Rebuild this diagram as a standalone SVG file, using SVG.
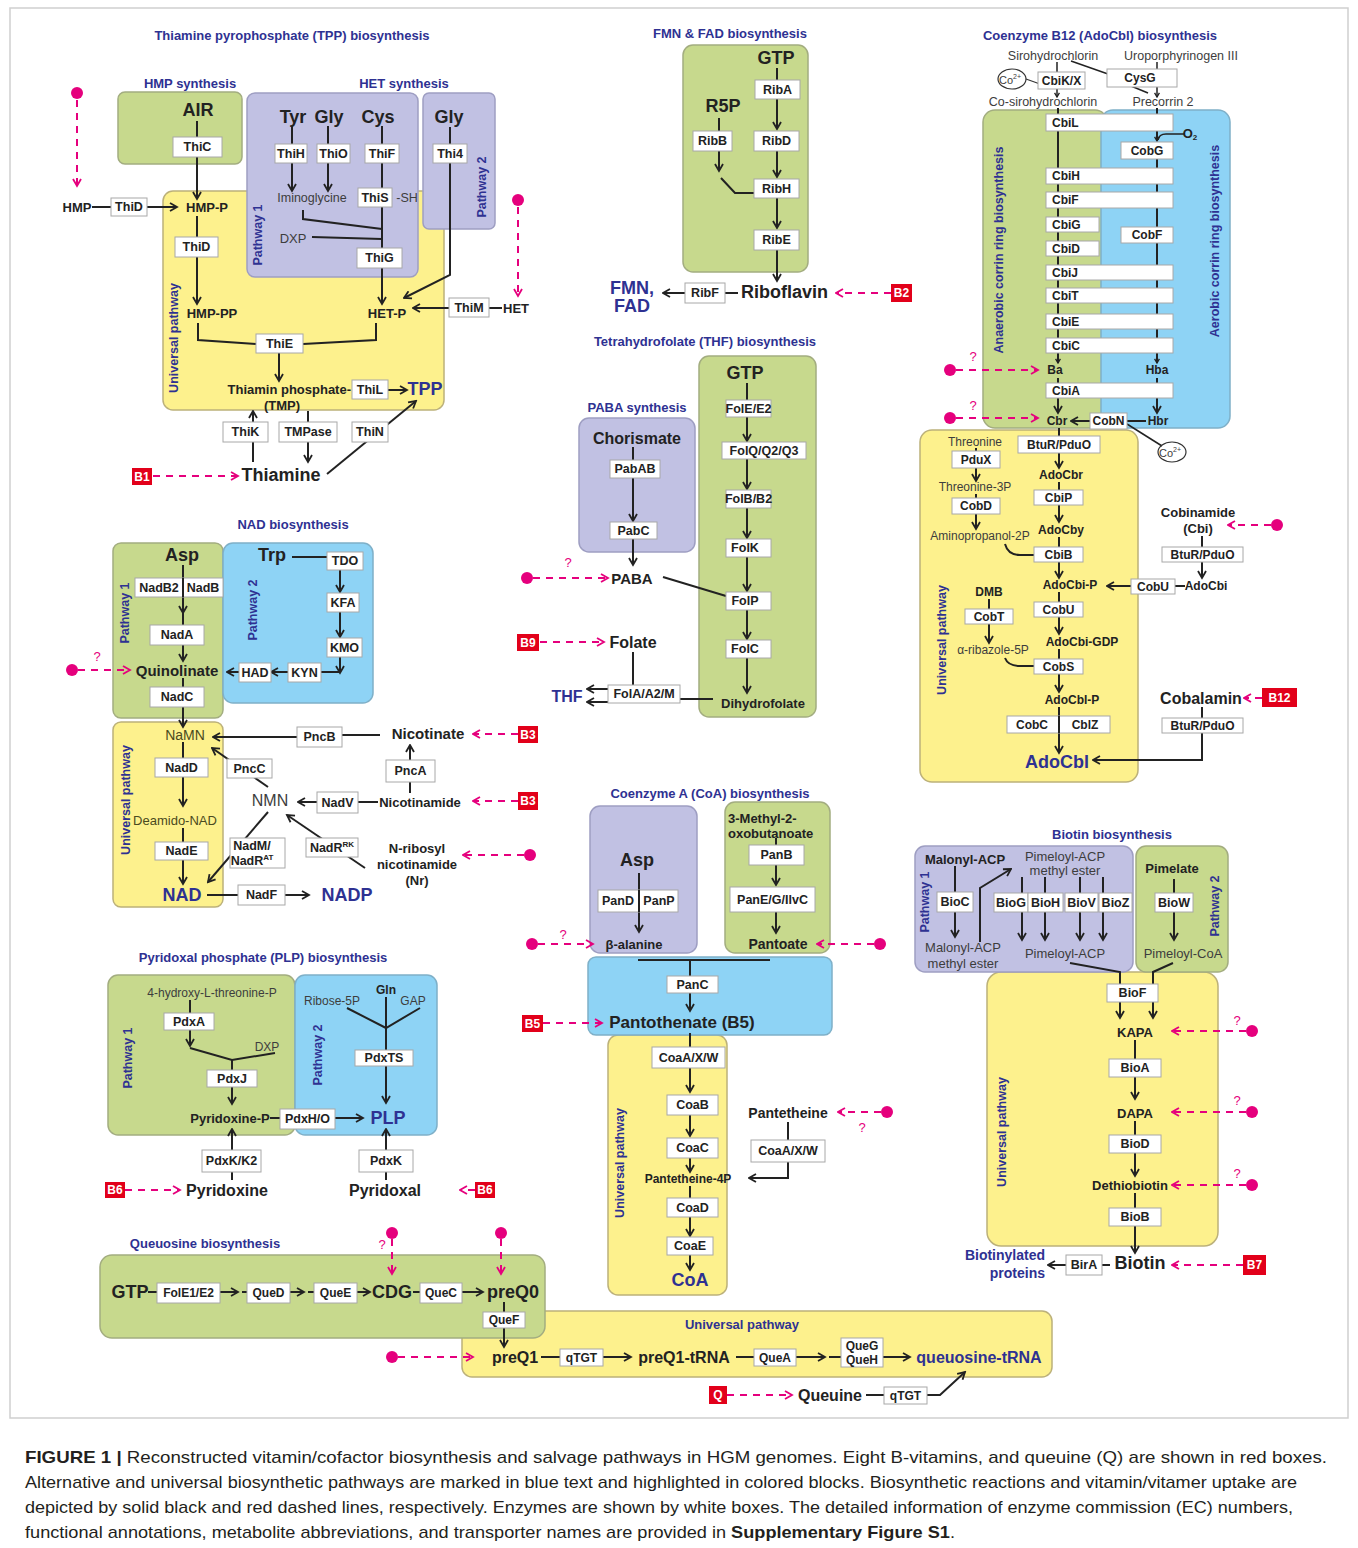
<svg xmlns="http://www.w3.org/2000/svg" width="1358" height="1548" viewBox="0 0 1358 1548">
<defs>
<style>
text{font-family:"Liberation Sans",Arial,Helvetica,sans-serif;fill:#222;text-anchor:middle;dominant-baseline:central}
.e{font-weight:bold;font-size:12.5px}
.es{font-weight:bold;font-size:12px}
.L{font-weight:bold;font-size:18px}
.M{font-weight:bold;font-size:15px}
.S{font-weight:bold;font-size:13px}
.rg{font-size:13px;fill:#3d3d3d}
.bl{fill:#2e3192}
.ti{font-weight:bold;font-size:13px;fill:#2e3192}
.lb{font-weight:bold;font-size:12.5px;fill:#2e3192}
.q{font-size:13px;fill:#e5007d}
.rt{font-weight:bold;font-size:12px;fill:#fff}
.cap{font-size:17px;text-anchor:start;fill:#231f20}
.st{text-anchor:start}
.en{text-anchor:end}
.eb{fill:#fff;stroke:#a8a8a8;stroke-width:1}
.rb{fill:#e2001a}
.c{fill:none;stroke:#222;stroke-width:2}
.ar{marker-end:url(#a)}
.sa{marker-end:url(#s)}
.d{fill:none;stroke:#e5007d;stroke-width:2;stroke-dasharray:7 6;marker-end:url(#m)}
.dot{fill:#e5007d}
.g{fill:#c7d98d;stroke:#a3ad80;stroke-width:1.5}
.p{fill:#c1c1e3;stroke:#9e9ec2;stroke-width:1.5}
.y{fill:#fdf18d;stroke:#bcb17a;stroke-width:1.5}
.b{fill:#8ed3f5;stroke:#7fb0c8;stroke-width:1.5}
.co{fill:none;stroke:#333;stroke-width:1.2}
</style>
<marker id="a" viewBox="0 0 10 10" refX="8.5" refY="5" markerWidth="10" markerHeight="10" markerUnits="userSpaceOnUse" orient="auto"><path d="M1.5,1 L8.5,5 L1.5,9" fill="none" stroke="#222" stroke-width="1.8"/></marker>
<marker id="s" viewBox="0 0 10 10" refX="8.5" refY="5" markerWidth="6" markerHeight="6" markerUnits="userSpaceOnUse" orient="auto"><path d="M1.5,1 L8.5,5 L1.5,9" fill="none" stroke="#222" stroke-width="2.2"/></marker>
<marker id="m" viewBox="0 0 10 10" refX="8.5" refY="5" markerWidth="10" markerHeight="10" markerUnits="userSpaceOnUse" orient="auto"><path d="M1.5,1 L8.5,5 L1.5,9" fill="none" stroke="#e5007d" stroke-width="1.8"/></marker>
</defs>
<rect x="0" y="0" width="1358" height="1548" fill="#fff"/>
<rect x="10" y="8" width="1338" height="1410" fill="none" stroke="#cfcfcf" stroke-width="1.5"/>

<g id="blocks">
<rect class="g" x="118" y="92" width="124" height="72" rx="7"/>
<rect class="y" x="163" y="191" width="281" height="219" rx="10"/>
<rect class="p" x="247" y="93" width="171" height="184" rx="8"/>
<rect class="p" x="423" y="93" width="72" height="136" rx="6"/>
<rect class="g" x="683" y="45" width="125" height="227" rx="10"/>
<rect class="g" x="699" y="356" width="117" height="361" rx="10"/>
<rect class="p" x="579" y="418" width="116" height="134" rx="10"/>
<rect class="y" x="920" y="430" width="218" height="352" rx="12"/>
<rect class="g" x="983" y="110" width="124" height="318" rx="12"/>
<rect class="b" x="1101" y="110" width="129" height="318" rx="12"/>
<rect class="g" x="113" y="543" width="110" height="175" rx="8"/>
<rect class="b" x="223" y="543" width="150" height="160" rx="10"/>
<rect class="y" x="113" y="722" width="110" height="185" rx="8"/>
<rect class="g" x="108" y="975" width="187" height="160" rx="10"/>
<rect class="b" x="295" y="975" width="142" height="160" rx="10"/>
<rect class="p" x="590" y="806" width="107" height="147" rx="10"/>
<rect class="g" x="725" y="802" width="105" height="151" rx="10"/>
<rect class="y" x="608" y="1035" width="119" height="260" rx="10"/>
<rect class="b" x="588" y="957" width="244" height="78" rx="8"/>
<rect class="y" x="987" y="972" width="231" height="274" rx="14"/>
<rect class="p" x="915" y="846" width="218" height="126" rx="10"/>
<rect class="g" x="1136" y="846" width="92" height="126" rx="10"/>
<rect class="y" x="462" y="1311" width="590" height="66" rx="10"/>
<rect class="g" x="100" y="1255" width="445" height="83" rx="12"/>
</g>

<g id="labels">
<text class="ti" x="292" y="35">Thiamine pyrophosphate (TPP) biosynthesis</text>
<text class="ti" x="190" y="83">HMP synthesis</text>
<text class="ti" x="404" y="83">HET synthesis</text>
<text class="ti" x="730" y="33">FMN &amp; FAD biosynthesis</text>
<text class="ti" x="1100" y="35">Coenzyme B12 (AdoCbl) biosynthesis</text>
<text class="ti" x="705" y="341">Tetrahydrofolate (THF) biosynthesis</text>
<text class="ti" x="637" y="407">PABA synthesis</text>
<text class="ti" x="293" y="524">NAD biosynthesis</text>
<text class="ti" x="710" y="793">Coenzyme A (CoA) biosynthesis</text>
<text class="ti" x="1112" y="834">Biotin biosynthesis</text>
<text class="ti" x="263" y="957">Pyridoxal phosphate (PLP) biosynthesis</text>
<text class="ti" x="205" y="1243">Queuosine biosynthesis</text>
<text class="ti" x="742" y="1324">Universal pathway</text>
<text class="lb" transform="rotate(-90 258 235)" x="258" y="235">Pathway 1</text>
<text class="lb" transform="rotate(-90 482 187)" x="482" y="187">Pathway 2</text>
<text class="lb" transform="rotate(-90 174 338)" x="174" y="338">Universal pathway</text>
<text class="lb" transform="rotate(-90 999 250)" x="999" y="250">Anaerobic corrin ring biosynthesis</text>
<text class="lb" transform="rotate(-90 1215 241)" x="1215" y="241">Aerobic corrin ring biosynthesis</text>
<text class="lb" transform="rotate(-90 942 640)" x="942" y="640">Universal pathway</text>
<text class="lb" transform="rotate(-90 125 613)" x="125" y="613">Pathway 1</text>
<text class="lb" transform="rotate(-90 253 610)" x="253" y="610">Pathway 2</text>
<text class="lb" transform="rotate(-90 126 800)" x="126" y="800">Universal pathway</text>
<text class="lb" transform="rotate(-90 128 1058)" x="128" y="1058">Pathway 1</text>
<text class="lb" transform="rotate(-90 318 1055)" x="318" y="1055">Pathway 2</text>
<text class="lb" transform="rotate(-90 620 1163)" x="620" y="1163">Universal pathway</text>
<text class="lb" transform="rotate(-90 925 902)" x="925" y="902">Pathway 1</text>
<text class="lb" transform="rotate(-90 1215 906)" x="1215" y="906">Pathway 2</text>
<text class="lb" transform="rotate(-90 1002 1132)" x="1002" y="1132">Universal pathway</text>
</g>

<g id="connectors">
<path class="c" d="M197,121V137"/>
<path class="c ar" d="M197,157V199"/>
<path class="c" d="M92,207H111"/>
<path class="c ar" d="M147,207H177"/>
<path class="c" d="M197,216V237"/>
<path class="c ar" d="M197,257V304"/>
<path class="c" d="M292,126V144"/>
<path class="c ar" d="M292,163V191"/>
<path class="c" d="M328,126V144"/>
<path class="c ar" d="M328,163V191"/>
<path class="c" d="M382,126V144M382,163V188M382,207V248"/>
<path class="c ar" d="M382,268V304"/>
<path class="c" d="M303,210V219L382,229"/>
<path class="c" d="M312,237L382,239"/>
<path class="c" d="M450,127V144"/>
<path class="c ar" d="M450,163V275L404,298"/>
<path class="c ar" d="M449,308H413"/>
<path class="c" d="M502,308H489"/>
<path class="c" d="M198,323V340L256,344"/>
<path class="c" d="M376,323V340L303,344"/>
<path class="c ar" d="M279,353V381"/>
<path class="c ar" d="M388,390H407"/>
<path class="c ar" d="M253,462V411"/>
<path class="c ar" d="M308,411V462"/>
<path class="c ar" d="M327,474L416,401"/>
<path class="d" d="M77,100V186"/>
<path class="d" d="M518,207V296"/>
<path class="d" d="M153,476H238"/>

<path class="c" d="M777,68V80"/>
<path class="c ar" d="M777,99V129"/>
<path class="c ar" d="M777,151V177"/>
<path class="c ar" d="M777,198V228"/>
<path class="c ar" d="M777,250V281"/>
<path class="c" d="M719,118V131"/>
<path class="c ar" d="M719,151V171"/>
<path class="c" d="M721,178L735,193H754"/>
<path class="c" d="M725,293H738"/>
<path class="c ar" d="M685,293H663"/>
<path class="d" d="M891,293H836"/>

<path class="c" d="M747,383V400"/>
<path class="c ar" d="M747,417V441"/>
<path class="c ar" d="M747,459V489"/>
<path class="c ar" d="M747,508V538"/>
<path class="c ar" d="M747,557V591"/>
<path class="c ar" d="M747,610V639"/>
<path class="c ar" d="M747,658V693"/>
<path class="c" d="M633,447V460"/>
<path class="c ar" d="M633,478V521"/>
<path class="c ar" d="M633,539V565"/>
<path class="c" d="M663,577L726,596"/>
<path class="c" d="M633,652V685"/>
<path class="c" d="M680,699H713"/>
<path class="c ar" d="M608,689H587"/>
<path class="c ar" d="M608,702H587"/>
<path class="d" d="M533,578H608"/>
<path class="d" d="M540,642H604"/>

<path class="c" d="M1057,62V72" style="stroke-width:1.5"/>
<path class="c sa" d="M1057,89V97" style="stroke-width:1.5"/>
<path class="co" d="M1026,79L1040,84"/>
<path class="c" d="M1071,61L1108,74" style="stroke-width:1.5"/>
<path class="c" d="M1157,62V69" style="stroke-width:1.5"/>
<path class="c sa" d="M1157,87V97" style="stroke-width:1.5"/>
<path class="c" d="M1131,86L1148,93" style="stroke-width:1.5"/>
<path class="c" d="M1058,108V114"/>
<path class="c sa" d="M1058,131V363"/>
<path class="c" d="M1058,378V383"/>
<path class="c ar" d="M1058,398V413"/>
<path class="c sa" d="M1157,108V141"/>
<path class="c sa" d="M1157,159V363"/>
<path class="c ar" d="M1157,378V413"/>
<path class="c" d="M1185,134H1166Q1159,134 1158,140" style="stroke-width:1.5"/>
<path class="c ar" d="M1090,421H1071"/>
<path class="c" d="M1146,421H1127"/>
<path class="c" d="M1127,424L1162,446" style="stroke-width:1.5"/>
<path class="d" d="M956,370H1038"/>
<path class="d" d="M956,418H1038"/>
<path class="c" d="M1059,428V436"/>
<path class="c ar" d="M1059,453V468"/>
<path class="c" d="M1059,482V490"/>
<path class="c ar" d="M1059,505V522"/>
<path class="c" d="M1059,537V547"/>
<path class="c ar" d="M1059,562V578"/>
<path class="c" d="M1059,592V602"/>
<path class="c ar" d="M1059,617V634"/>
<path class="c" d="M1059,649V659"/>
<path class="c ar" d="M1059,674V692"/>
<path class="c ar" d="M1059,707V753"/>
<path class="c" d="M976,448V451"/>
<path class="c ar" d="M976,468V481"/>
<path class="c" d="M976,494V498"/>
<path class="c ar" d="M976,514V529"/>
<path class="c" d="M1005,544Q1008,555 1020,555H1034"/>
<path class="c" d="M989,599V609"/>
<path class="c ar" d="M989,624V643"/>
<path class="c" d="M1005,658Q1008,666 1020,666H1034"/>
<path class="c" d="M1202,536V547"/>
<path class="c ar" d="M1202,562V578"/>
<path class="c" d="M1185,586H1175"/>
<path class="c ar" d="M1131,586H1107"/>
<path class="c" d="M1202,707V718"/>
<path class="c ar" d="M1202,733V760H1093"/>
<path class="d" d="M1271,525H1228"/>
<path class="d" d="M1262,698H1244"/>

<path class="c ar" d="M183,565V613"/>
<path class="c" d="M183,612V625"/>
<path class="c ar" d="M183,645V661"/>
<path class="c" d="M183,678V687"/>
<path class="c ar" d="M183,707V727"/>
<path class="c" d="M292,557H327"/>
<path class="c ar" d="M340,570V592"/>
<path class="c ar" d="M340,612V637"/>
<path class="c ar" d="M340,657V673"/>
<path class="c" d="M321,672H339"/>
<path class="c ar" d="M288,672H271"/>
<path class="c ar" d="M239,672H227"/>
<path class="c" d="M183,742V758"/>
<path class="c ar" d="M183,777V806"/>
<path class="c" d="M183,828V842"/>
<path class="c ar" d="M183,860V884"/>
<path class="c" d="M207,895H238"/>
<path class="c ar" d="M285,895H309"/>
<path class="c" d="M380,735H342"/>
<path class="c ar" d="M297,737H213"/>
<path class="c ar" d="M410,793V745"/>
<path class="c" d="M378,802H358"/>
<path class="c ar" d="M317,802H298"/>
<path class="c ar" d="M268,787L212,748"/>
<path class="c ar" d="M268,812L208,882"/>
<path class="c ar" d="M365,868L287,815"/>
<path class="d" d="M78,670H130"/>
<path class="d" d="M518,734H473"/>
<path class="d" d="M518,801H473"/>
<path class="d" d="M524,855H463"/>

<path class="c" d="M190,1000V1013"/>
<path class="c ar" d="M190,1030V1046"/>
<path class="c" d="M190,1048L232,1060L275,1053"/>
<path class="c" d="M232,1060V1070"/>
<path class="c ar" d="M232,1087V1104"/>
<path class="c" d="M270,1118H280"/>
<path class="c ar" d="M335,1118H363"/>
<path class="c" d="M386,997V1050"/>
<path class="c" d="M347,1008L386,1028L420,1008"/>
<path class="c ar" d="M386,1066V1103"/>
<path class="c ar" d="M232,1180V1129"/>
<path class="c ar" d="M386,1180V1129"/>
<path class="d" d="M125,1190H180"/>
<path class="d" d="M475,1190H460"/>

<path class="c ar" d="M639,873V932"/>
<path class="c" d="M776,838V845"/>
<path class="c ar" d="M776,865V885"/>
<path class="c ar" d="M776,912V933"/>
<path class="c" d="M638,960H770"/>
<path class="c" d="M690,960V976"/>
<path class="c ar" d="M690,993V1011"/>
<path class="c" d="M690,1033V1047"/>
<path class="c ar" d="M690,1068V1092"/>
<path class="c ar" d="M690,1115V1136"/>
<path class="c ar" d="M690,1158V1172"/>
<path class="c" d="M690,1186V1198"/>
<path class="c ar" d="M690,1217V1236"/>
<path class="c ar" d="M690,1255V1270"/>
<path class="c" d="M788,1122V1140"/>
<path class="c ar" d="M788,1162V1178H749"/>
<path class="d" d="M538,944H593"/>
<path class="d" d="M874,944H817"/>
<path class="d" d="M543,1023H602"/>
<path class="d" d="M881,1112H838"/>

<path class="c" d="M955,866V892"/>
<path class="c ar" d="M955,912V937"/>
<path class="c ar" d="M980,942V888L1011,869"/>
<path class="c" d="M1022,877V893M1045,877V893M1080,877V893M1103,877V893"/>
<path class="c ar" d="M1022,912V940"/>
<path class="c ar" d="M1045,912V940"/>
<path class="c ar" d="M1080,912V940"/>
<path class="c ar" d="M1103,912V940"/>
<path class="c" d="M1174,879V893"/>
<path class="c ar" d="M1174,912V940"/>
<path class="c" d="M1070,963L1120,972V984"/>
<path class="c" d="M1173,963L1153,972V984"/>
<path class="c ar" d="M1120,1002V1018"/>
<path class="c ar" d="M1153,1002V1018"/>
<path class="c" d="M1135,1040V1059"/>
<path class="c ar" d="M1135,1077V1099"/>
<path class="c" d="M1135,1121V1135"/>
<path class="c ar" d="M1135,1153V1176"/>
<path class="c" d="M1135,1193V1208"/>
<path class="c ar" d="M1135,1226V1253"/>
<path class="c" d="M1102,1265H1110"/>
<path class="c ar" d="M1066,1265H1048"/>
<path class="d" d="M1246,1031H1172"/>
<path class="d" d="M1246,1112H1172"/>
<path class="d" d="M1246,1185H1172"/>
<path class="d" d="M1243,1265H1172"/>

<path class="c" d="M148,1292H157"/>
<path class="c ar" d="M220,1292H238"/>
<path class="c" d="M242,1292H247"/>
<path class="c ar" d="M290,1292H304"/>
<path class="c" d="M308,1292H314"/>
<path class="c ar" d="M357,1292H370"/>
<path class="c" d="M413,1292H420"/>
<path class="c ar" d="M462,1292H483"/>
<path class="c" d="M504,1302V1312"/>
<path class="c ar" d="M504,1328V1347"/>
<path class="c" d="M541,1357H560"/>
<path class="c ar" d="M603,1357H631"/>
<path class="c" d="M736,1357H754"/>
<path class="c ar" d="M796,1357H825"/>
<path class="c" d="M829,1357H841"/>
<path class="c ar" d="M883,1357H910"/>
<path class="c" d="M866,1395H884"/>
<path class="c ar" d="M927,1395H940L965,1372"/>
<path class="d" d="M392,1239V1274"/>
<path class="d" d="M501,1239V1274"/>
<path class="d" d="M398,1357H473"/>
<path class="d" d="M727,1395H792"/>
</g>

<g id="uptake-markers">
<circle class="dot" cx="77" cy="93" r="6"/>
<circle class="dot" cx="518" cy="200" r="6"/>
<circle class="dot" cx="527" cy="578" r="6"/>
<text class="q" x="568" y="562">?</text>
<circle class="dot" cx="950" cy="370" r="6"/>
<text class="q" x="973" y="356">?</text>
<circle class="dot" cx="950" cy="418" r="6"/>
<text class="q" x="973" y="405">?</text>
<circle class="dot" cx="1277" cy="525" r="6"/>
<circle class="dot" cx="72" cy="670" r="6"/>
<text class="q" x="97" y="656">?</text>
<circle class="dot" cx="530" cy="855" r="6"/>
<circle class="dot" cx="532" cy="944" r="6"/>
<text class="q" x="563" y="934">?</text>
<circle class="dot" cx="880" cy="944" r="6"/>
<circle class="dot" cx="887" cy="1112" r="6"/>
<text class="q" x="862" y="1127">?</text>
<circle class="dot" cx="1252" cy="1031" r="6"/>
<text class="q" x="1237" y="1020">?</text>
<circle class="dot" cx="1252" cy="1112" r="6"/>
<text class="q" x="1237" y="1100">?</text>
<circle class="dot" cx="1252" cy="1185" r="6"/>
<text class="q" x="1237" y="1173">?</text>
<circle class="dot" cx="392" cy="1233" r="6"/>
<text class="q" x="382" y="1244">?</text>
<circle class="dot" cx="501" cy="1233" r="6"/>
<circle class="dot" cx="392" cy="1357" r="6"/>
</g>

<g id="vitamins">
<g id="v-b1"><rect class="rb" x="132" y="468" width="20" height="17"/><text class="rt" x="142" y="476.5">B1</text></g>
<g id="v-b2"><rect class="rb" x="891" y="284" width="21" height="18"/><text class="rt" x="901.5" y="293">B2</text></g>
<g id="v-b9"><rect class="rb" x="517" y="634" width="22" height="17"/><text class="rt" x="528" y="642.5">B9</text></g>
<g id="v-b12"><rect class="rb" x="1262" y="688" width="35" height="19"/><text class="rt" x="1279.5" y="697.5">B12</text></g>
<g id="v-b3a"><rect class="rb" x="518" y="726" width="20" height="17"/><text class="rt" x="528" y="734.5">B3</text></g>
<g id="v-b3b"><rect class="rb" x="518" y="792" width="20" height="18"/><text class="rt" x="528" y="801">B3</text></g>
<g id="v-b6a"><rect class="rb" x="105" y="1182" width="20" height="16"/><text class="rt" x="115" y="1190">B6</text></g>
<g id="v-b6b"><rect class="rb" x="475" y="1182" width="20" height="16"/><text class="rt" x="485" y="1190">B6</text></g>
<g id="v-b5"><rect class="rb" x="522" y="1015" width="21" height="17"/><text class="rt" x="532.5" y="1023.5">B5</text></g>
<g id="v-b7"><rect class="rb" x="1243" y="1255" width="23" height="20"/><text class="rt" x="1254.5" y="1265">B7</text></g>
<g id="v-q"><rect class="rb" x="709" y="1386" width="18" height="18"/><text class="rt" x="718" y="1395">Q</text></g>
</g>

<g id="enzymes">
<g id="e-thic"><rect class="eb" x="173" y="137" width="49" height="20"/><text class="e" x="197.5" y="147">ThiC</text></g>
<g id="e-thih"><rect class="eb" x="275" y="144" width="32" height="19"/><text class="e" x="291" y="153.5">ThiH</text></g>
<g id="e-thio"><rect class="eb" x="317" y="144" width="33" height="19"/><text class="e" x="333.5" y="153.5">ThiO</text></g>
<g id="e-thif"><rect class="eb" x="365" y="144" width="34" height="19"/><text class="e" x="382" y="153.5">ThiF</text></g>
<g id="e-thi4"><rect class="eb" x="433" y="144" width="34" height="19"/><text class="e" x="450" y="153.5">Thi4</text></g>
<g id="e-this"><rect class="eb" x="358" y="188" width="34" height="19"/><text class="e" x="375" y="197.5">ThiS</text></g>
<g id="e-thig"><rect class="eb" x="357" y="248" width="45" height="20"/><text class="e" x="379.5" y="258">ThiG</text></g>
<g id="e-thid1"><rect class="eb" x="111" y="198" width="36" height="18"/><text class="e" x="129" y="207">ThiD</text></g>
<g id="e-thid2"><rect class="eb" x="175" y="237" width="43" height="20"/><text class="e" x="196.5" y="247">ThiD</text></g>
<g id="e-thim"><rect class="eb" x="449" y="298" width="40" height="19"/><text class="e" x="469" y="307.5">ThiM</text></g>
<g id="e-thie"><rect class="eb" x="256" y="334" width="47" height="19"/><text class="e" x="279.5" y="343.5">ThiE</text></g>
<g id="e-thil"><rect class="eb" x="352" y="380" width="36" height="19"/><text class="e" x="370" y="389.5">ThiL</text></g>
<g id="e-thik"><rect class="eb" x="223" y="422" width="45" height="20"/><text class="e" x="245.5" y="432">ThiK</text></g>
<g id="e-tmpase"><rect class="eb" x="279" y="422" width="58" height="20"/><text class="e" x="308" y="432">TMPase</text></g>
<g id="e-thin"><rect class="eb" x="352" y="422" width="36" height="20"/><text class="e" x="370" y="432">ThiN</text></g>

<g id="e-riba"><rect class="eb" x="755" y="80" width="45" height="19"/><text class="e" x="777.5" y="89.5">RibA</text></g>
<g id="e-ribb"><rect class="eb" x="693" y="131" width="39" height="20"/><text class="e" x="712.5" y="141">RibB</text></g>
<g id="e-ribd"><rect class="eb" x="754" y="131" width="45" height="20"/><text class="e" x="776.5" y="141">RibD</text></g>
<g id="e-ribh"><rect class="eb" x="754" y="179" width="45" height="19"/><text class="e" x="776.5" y="188.5">RibH</text></g>
<g id="e-ribe"><rect class="eb" x="754" y="230" width="45" height="20"/><text class="e" x="776.5" y="240">RibE</text></g>
<g id="e-ribf"><rect class="eb" x="685" y="283" width="40" height="20"/><text class="e" x="705" y="293">RibF</text></g>

<g id="e-fole"><rect class="eb" x="726" y="400" width="45" height="17"/><text class="e" x="748.5" y="408.5">FolE/E2</text></g>
<g id="e-folq"><rect class="eb" x="722" y="442" width="84" height="17"/><text class="e" x="764" y="450.5">FolQ/Q2/Q3</text></g>
<g id="e-folb"><rect class="eb" x="726" y="490" width="45" height="18"/><text class="e" x="748.5" y="499">FolB/B2</text></g>
<g id="e-folk"><rect class="eb" x="726" y="539" width="45" height="18"/><text class="e" x="745" y="548">FolK</text></g>
<g id="e-folp"><rect class="eb" x="726" y="592" width="45" height="18"/><text class="e" x="745" y="601">FolP</text></g>
<g id="e-folc"><rect class="eb" x="726" y="640" width="45" height="18"/><text class="e" x="745" y="649">FolC</text></g>
<g id="e-pabab"><rect class="eb" x="610" y="460" width="50" height="18"/><text class="e" x="635" y="469">PabAB</text></g>
<g id="e-pabc"><rect class="eb" x="610" y="522" width="47" height="17"/><text class="e" x="633.5" y="530.5">PabC</text></g>
<g id="e-fola"><rect class="eb" x="608" y="685" width="72" height="18"/><text class="e" x="644" y="694">FolA/A2/M</text></g>

<g id="e-cbikx"><rect class="eb" x="1038" y="72" width="47" height="17"/><text class="es" x="1061.5" y="80.5">CbiK/X</text></g>
<g id="e-cysg"><rect class="eb" x="1107" y="69" width="70" height="18"/><text class="es" x="1140" y="78">CysG</text></g>
<g id="e-cbil"><rect class="eb" x="1046" y="114" width="127" height="17"/><text class="es st" x="1052" y="122.5">CbiL</text></g>
<g id="e-cobg"><rect class="eb" x="1121" y="142" width="52" height="17"/><text class="es" x="1147" y="150.5">CobG</text></g>
<g id="e-cbih"><rect class="eb" x="1046" y="168" width="127" height="16"/><text class="es st" x="1052" y="176">CbiH</text></g>
<g id="e-cbif"><rect class="eb" x="1046" y="192" width="127" height="16"/><text class="es st" x="1052" y="200">CbiF</text></g>
<g id="e-cbig"><rect class="eb" x="1046" y="217" width="53" height="15"/><text class="es st" x="1052" y="224.5">CbiG</text></g>
<g id="e-cbid"><rect class="eb" x="1046" y="241" width="53" height="15"/><text class="es st" x="1052" y="248.5">CbiD</text></g>
<g id="e-cobf"><rect class="eb" x="1121" y="227" width="52" height="16"/><text class="es" x="1147" y="235">CobF</text></g>
<g id="e-cbij"><rect class="eb" x="1046" y="265" width="127" height="15"/><text class="es st" x="1052" y="272.5">CbiJ</text></g>
<g id="e-cbit"><rect class="eb" x="1046" y="288" width="127" height="15"/><text class="es st" x="1052" y="295.5">CbiT</text></g>
<g id="e-cbie"><rect class="eb" x="1046" y="314" width="127" height="15"/><text class="es st" x="1052" y="321.5">CbiE</text></g>
<g id="e-cbic"><rect class="eb" x="1046" y="338" width="127" height="15"/><text class="es st" x="1052" y="345.5">CbiC</text></g>
<g id="e-cbia"><rect class="eb" x="1046" y="383" width="127" height="15"/><text class="es st" x="1052" y="390.5">CbiA</text></g>
<g id="e-cobn"><rect class="eb" x="1090" y="413" width="37" height="16"/><text class="es" x="1108.5" y="421">CobN</text></g>
<g id="e-btur1"><rect class="eb" x="1018" y="436" width="82" height="17"/><text class="es" x="1059" y="444.5">BtuR/PduO</text></g>
<g id="e-pdux"><rect class="eb" x="952" y="451" width="48" height="17"/><text class="es" x="976" y="459.5">PduX</text></g>
<g id="e-cobd"><rect class="eb" x="952" y="498" width="48" height="16"/><text class="es" x="976" y="506">CobD</text></g>
<g id="e-cbip"><rect class="eb" x="1034" y="490" width="49" height="15"/><text class="es" x="1058.5" y="497.5">CbiP</text></g>
<g id="e-cbib"><rect class="eb" x="1034" y="547" width="49" height="15"/><text class="es" x="1058.5" y="554.5">CbiB</text></g>
<g id="e-cobu1"><rect class="eb" x="1034" y="602" width="49" height="15"/><text class="es" x="1058.5" y="609.5">CobU</text></g>
<g id="e-cobs"><rect class="eb" x="1034" y="659" width="49" height="15"/><text class="es" x="1058.5" y="666.5">CobS</text></g>
<g id="e-cobt"><rect class="eb" x="965" y="609" width="48" height="15"/><text class="es" x="989" y="616.5">CobT</text></g>
<g id="e-cobc"><rect class="eb" x="1007" y="716" width="103" height="17"/><path class="c" d="M1059,716V733"/><text class="es" x="1032" y="724.5">CobC</text><text class="es" x="1085" y="724.5">CblZ</text></g>
<g id="e-btur2"><rect class="eb" x="1162" y="547" width="81" height="15"/><text class="es" x="1202.5" y="554.5">BtuR/PduO</text></g>
<g id="e-cobu2"><rect class="eb" x="1131" y="579" width="44" height="15"/><text class="es" x="1153" y="586.5">CobU</text></g>
<g id="e-btur3"><rect class="eb" x="1162" y="718" width="81" height="15"/><text class="es" x="1202.5" y="725.5">BtuR/PduO</text></g>

<g id="e-nadb"><rect class="eb" x="135" y="578" width="88" height="19"/><path class="c" d="M183,578V597"/><text class="e" x="159" y="587.5">NadB2</text><text class="e" x="203" y="587.5">NadB</text></g>
<g id="e-nada"><rect class="eb" x="150" y="625" width="54" height="20"/><text class="e" x="177" y="635">NadA</text></g>
<g id="e-nadc"><rect class="eb" x="150" y="687" width="54" height="20"/><text class="e" x="177" y="697">NadC</text></g>
<g id="e-tdo"><rect class="eb" x="327" y="552" width="36" height="18"/><text class="e" x="345" y="561">TDO</text></g>
<g id="e-kfa"><rect class="eb" x="327" y="593" width="32" height="19"/><text class="e" x="343" y="602.5">KFA</text></g>
<g id="e-kmo"><rect class="eb" x="327" y="638" width="35" height="19"/><text class="e" x="344.5" y="647.5">KMO</text></g>
<g id="e-kyn"><rect class="eb" x="288" y="663" width="33" height="19"/><text class="e" x="304.5" y="672.5">KYN</text></g>
<g id="e-had"><rect class="eb" x="239" y="663" width="32" height="19"/><text class="e" x="255" y="672.5">HAD</text></g>
<g id="e-nadd"><rect class="eb" x="155" y="758" width="53" height="19"/><text class="e" x="181.5" y="767.5">NadD</text></g>
<g id="e-nade"><rect class="eb" x="155" y="842" width="53" height="18"/><text class="e" x="181.5" y="851">NadE</text></g>
<g id="e-nadf"><rect class="eb" x="238" y="885" width="47" height="20"/><text class="e" x="261.5" y="895">NadF</text></g>
<g id="e-pncb"><rect class="eb" x="297" y="727" width="45" height="20"/><text class="e" x="319.5" y="737">PncB</text></g>
<g id="e-pnca"><rect class="eb" x="386" y="760" width="49" height="22"/><text class="e" x="410.5" y="771">PncA</text></g>
<g id="e-nadv"><rect class="eb" x="317" y="792" width="41" height="21"/><text class="e" x="337.5" y="802.5">NadV</text></g>
<g id="e-pncc"><rect class="eb" x="227" y="759" width="45" height="19"/><text class="e" x="249.5" y="768.5">PncC</text></g>
<g id="e-nadm"><rect class="eb" x="230" y="838" width="55" height="30"/><text class="e" x="252" y="846">NadM/</text><text class="e" x="252" y="861">NadR<tspan dy="-4" font-size="8">AT</tspan></text></g>
<g id="e-nadr"><rect class="eb" x="306" y="838" width="52" height="19"/><text class="e" x="332" y="847.5">NadR<tspan dy="-4" font-size="8">RK</tspan></text></g>

<g id="e-pdxa"><rect class="eb" x="164" y="1013" width="50" height="17"/><text class="e" x="189" y="1021.5">PdxA</text></g>
<g id="e-pdxj"><rect class="eb" x="207" y="1070" width="50" height="17"/><text class="e" x="232" y="1078.5">PdxJ</text></g>
<g id="e-pdxh"><rect class="eb" x="280" y="1109" width="55" height="20"/><text class="e" x="307.5" y="1119">PdxH/O</text></g>
<g id="e-pdxts"><rect class="eb" x="355" y="1050" width="58" height="16"/><text class="e" x="384" y="1058">PdxTS</text></g>
<g id="e-pdxk2"><rect class="eb" x="202" y="1150" width="59" height="22"/><text class="e" x="231.5" y="1161">PdxK/K2</text></g>
<g id="e-pdxk"><rect class="eb" x="359" y="1150" width="54" height="22"/><text class="e" x="386" y="1161">PdxK</text></g>

<g id="e-pand"><rect class="eb" x="598" y="890" width="80" height="22"/><path class="c" d="M639,890V912"/><text class="e" x="618" y="901">PanD</text><text class="e" x="659" y="901">PanP</text></g>
<g id="e-panb"><rect class="eb" x="749" y="845" width="55" height="20"/><text class="e" x="776.5" y="855">PanB</text></g>
<g id="e-pane"><rect class="eb" x="730" y="887" width="85" height="25"/><text class="e" x="772.5" y="899.5">PanE/G/IlvC</text></g>
<g id="e-panc"><rect class="eb" x="667" y="976" width="51" height="17"/><text class="e" x="692.5" y="984.5">PanC</text></g>
<g id="e-coaa1"><rect class="eb" x="652" y="1047" width="73" height="21"/><text class="e" x="688.5" y="1057.5">CoaA/X/W</text></g>
<g id="e-coab"><rect class="eb" x="667" y="1095" width="51" height="20"/><text class="e" x="692.5" y="1105">CoaB</text></g>
<g id="e-coac"><rect class="eb" x="667" y="1138" width="51" height="20"/><text class="e" x="692.5" y="1148">CoaC</text></g>
<g id="e-coad"><rect class="eb" x="667" y="1198" width="51" height="19"/><text class="e" x="692.5" y="1207.5">CoaD</text></g>
<g id="e-coae"><rect class="eb" x="667" y="1237" width="46" height="18"/><text class="e" x="690" y="1246">CoaE</text></g>
<g id="e-coaa2"><rect class="eb" x="751" y="1140" width="74" height="22"/><text class="e" x="788" y="1151">CoaA/X/W</text></g>

<g id="e-bioc"><rect class="eb" x="937" y="892" width="36" height="20"/><text class="e" x="955" y="902">BioC</text></g>
<g id="e-biog"><rect class="eb" x="994" y="893" width="34" height="19"/><text class="e" x="1011" y="902.5">BioG</text></g>
<g id="e-bioh"><rect class="eb" x="1028" y="893" width="35" height="19"/><text class="e" x="1045.5" y="902.5">BioH</text></g>
<g id="e-biov"><rect class="eb" x="1065" y="893" width="33" height="19"/><text class="e" x="1081.5" y="902.5">BioV</text></g>
<g id="e-bioz"><rect class="eb" x="1099" y="893" width="33" height="19"/><text class="e" x="1115.5" y="902.5">BioZ</text></g>
<g id="e-biow"><rect class="eb" x="1155" y="893" width="38" height="19"/><text class="e" x="1174" y="902.5">BioW</text></g>
<g id="e-biof"><rect class="eb" x="1107" y="984" width="51" height="18"/><text class="e" x="1132.5" y="993">BioF</text></g>
<g id="e-bioa"><rect class="eb" x="1109" y="1059" width="52" height="18"/><text class="e" x="1135" y="1068">BioA</text></g>
<g id="e-biod"><rect class="eb" x="1109" y="1135" width="52" height="18"/><text class="e" x="1135" y="1144">BioD</text></g>
<g id="e-biob"><rect class="eb" x="1109" y="1208" width="52" height="18"/><text class="e" x="1135" y="1217">BioB</text></g>
<g id="e-bira"><rect class="eb" x="1066" y="1255" width="36" height="20"/><text class="e" x="1084" y="1265">BirA</text></g>

<g id="e-fole1"><rect class="eb" x="157" y="1283" width="63" height="20"/><text class="es" x="188.5" y="1293">FolE1/E2</text></g>
<g id="e-qued"><rect class="eb" x="247" y="1283" width="43" height="20"/><text class="es" x="268.5" y="1293">QueD</text></g>
<g id="e-quee"><rect class="eb" x="314" y="1283" width="43" height="20"/><text class="es" x="335.5" y="1293">QueE</text></g>
<g id="e-quec"><rect class="eb" x="420" y="1283" width="42" height="20"/><text class="es" x="441" y="1293">QueC</text></g>
<g id="e-quef"><rect class="eb" x="483" y="1312" width="42" height="16"/><text class="es" x="504" y="1320">QueF</text></g>
<g id="e-qtgt1"><rect class="eb" x="560" y="1349" width="43" height="17"/><text class="es" x="581.5" y="1357.5">qTGT</text></g>
<g id="e-quea"><rect class="eb" x="754" y="1349" width="42" height="17"/><text class="es" x="775" y="1357.5">QueA</text></g>
<g id="e-queg"><rect class="eb" x="841" y="1338" width="42" height="29"/><text class="es" x="862" y="1346">QueG</text><text class="es" x="862" y="1360">QueH</text></g>
<g id="e-qtgt2"><rect class="eb" x="884" y="1387" width="43" height="17"/><text class="es" x="905.5" y="1395.5">qTGT</text></g>
</g>

<g id="metabolites">
<g id="m-air"><text class="L" x="198" y="110">AIR</text></g>
<g id="m-tyr"><text class="L" x="293" y="117">Tyr</text></g>
<g id="m-gly1"><text class="L" x="329" y="117">Gly</text></g>
<g id="m-cys"><text class="L" x="378" y="117">Cys</text></g>
<g id="m-gly2"><text class="L" x="449" y="117">Gly</text></g>
<g id="m-hmp"><text class="S" x="77" y="207">HMP</text></g>
<g id="m-hmpp"><text class="S" x="207" y="207">HMP-P</text></g>
<g id="m-hmppp"><text class="S" x="212" y="313">HMP-PP</text></g>
<g id="m-hetp"><text class="S" x="387" y="313">HET-P</text></g>
<g id="m-het"><text class="S" x="516" y="308">HET</text></g>
<g id="m-imino"><text class="rg" x="312" y="198" style="font-size:12.5px">Iminoglycine</text></g>
<g id="m-sh"><text class="rg" x="407" y="198" style="font-size:12.5px">-SH</text></g>
<g id="m-dxp1"><text class="rg" x="293" y="238">DXP</text></g>
<g id="m-tmp"><text class="S en" x="351" y="389">Thiamin phosphate-</text><text class="S" x="282" y="405">(TMP)</text></g>
<g id="m-tpp"><text class="L bl" x="425" y="389">TPP</text></g>
<g id="m-thiamine"><text class="L" x="281" y="475">Thiamine</text></g>

<g id="m-gtp1"><text class="L" x="776" y="58">GTP</text></g>
<g id="m-r5p"><text class="L" x="723" y="106">R5P</text></g>
<g id="m-ribo"><text class="L st" x="741" y="292">Riboflavin</text></g>
<g id="m-fmn"><text class="L bl" x="632" y="288">FMN,</text><text class="L bl" x="632" y="306">FAD</text></g>

<g id="m-gtp2"><text class="L" x="745" y="373">GTP</text></g>
<g id="m-chor"><text x="637" y="438" style="font-weight:bold;font-size:16px">Chorismate</text></g>
<g id="m-paba"><text class="M" x="632" y="578">PABA</text></g>
<g id="m-folate"><text x="633" y="642" style="font-weight:bold;font-size:16px">Folate</text></g>
<g id="m-dhf"><text class="S" x="763" y="703">Dihydrofolate</text></g>
<g id="m-thf"><text class="bl" x="567" y="696" style="font-weight:bold;font-size:16px">THF</text></g>

<g id="m-siro"><text class="rg" x="1053" y="56" style="font-size:12.5px">Sirohydrochlorin</text></g>
<g id="m-uro"><text class="rg" x="1181" y="56" style="font-size:12.5px">Uroporphyrinogen III</text></g>
<g id="m-co1"><ellipse class="co" cx="1012" cy="79" rx="14" ry="10"/><text class="rg" x="1010" y="80" style="font-size:11px">Co<tspan dy="-4" font-size="7">2+</tspan></text></g>
<g id="m-cosiro"><text class="rg" x="1043" y="102" style="font-size:12.5px">Co-sirohydrochlorin</text></g>
<g id="m-prec"><text class="rg" x="1163" y="102" style="font-size:12.5px">Precorrin 2</text></g>
<g id="m-o2"><text class="S" x="1190" y="133">O<tspan dy="4" font-size="8">2</tspan></text></g>
<g id="m-ba"><text class="es" x="1055" y="370">Ba</text></g>
<g id="m-hba"><text class="es" x="1157" y="370">Hba</text></g>
<g id="m-cbr"><text class="es" x="1057" y="421">Cbr</text></g>
<g id="m-hbr"><text class="es" x="1158" y="421">Hbr</text></g>
<g id="m-co2"><ellipse class="co" cx="1172" cy="452" rx="14" ry="10"/><text class="rg" x="1170" y="453" style="font-size:11px">Co<tspan dy="-4" font-size="7">2+</tspan></text></g>
<g id="m-thr"><text class="rg" x="975" y="442" style="font-size:12px">Threonine</text></g>
<g id="m-thr3p"><text class="rg" x="975" y="487" style="font-size:12px">Threonine-3P</text></g>
<g id="m-amino"><text class="rg" x="980" y="536" style="font-size:12px">Aminopropanol-2P</text></g>
<g id="m-adocbr"><text class="es" x="1061" y="475">AdoCbr</text></g>
<g id="m-adocby"><text class="es" x="1061" y="530">AdoCby</text></g>
<g id="m-adocbip"><text class="es" x="1070" y="585">AdoCbi-P</text></g>
<g id="m-adocbigdp"><text class="es" x="1082" y="642">AdoCbi-GDP</text></g>
<g id="m-adocblp"><text class="es" x="1072" y="700">AdoCbl-P</text></g>
<g id="m-dmb"><text class="es" x="989" y="592">DMB</text></g>
<g id="m-arib"><text class="rg" x="993" y="650" style="font-size:12px">α-ribazole-5P</text></g>
<g id="m-adocbl"><text class="L bl" x="1057" y="762">AdoCbl</text></g>
<g id="m-cbi"><text class="S" x="1198" y="512">Cobinamide</text><text class="S" x="1198" y="528">(Cbi)</text></g>
<g id="m-adocbi"><text class="es" x="1206" y="586">AdoCbi</text></g>
<g id="m-cobal"><text x="1201" y="698" style="font-weight:bold;font-size:16px">Cobalamin</text></g>

<g id="m-asp1"><text class="L" x="182" y="555">Asp</text></g>
<g id="m-trp"><text class="L" x="272" y="555">Trp</text></g>
<g id="m-quin"><text class="M" x="177" y="670">Quinolinate</text></g>
<g id="m-namn"><text class="rg" x="185" y="735" style="font-size:14px;fill:#4a4a20">NaMN</text></g>
<g id="m-deamido"><text class="rg" x="175" y="820" style="fill:#4a4a20">Deamido-NAD</text></g>
<g id="m-nad"><text class="L bl" x="182" y="895">NAD</text></g>
<g id="m-nadp"><text class="L bl" x="347" y="895">NADP</text></g>
<g id="m-nicot"><text class="M" x="428" y="733">Nicotinate</text></g>
<g id="m-nicam"><text class="S" x="420" y="802">Nicotinamide</text></g>
<g id="m-nmn"><text class="rg" x="270" y="800" style="font-size:16px">NMN</text></g>
<g id="m-nr"><text class="S" x="417" y="848">N-ribosyl</text><text class="S" x="417" y="864">nicotinamide</text><text class="S" x="417" y="880">(Nr)</text></g>

<g id="m-hthr"><text class="rg" x="212" y="993" style="font-size:12px">4-hydroxy-L-threonine-P</text></g>
<g id="m-dxp2"><text class="rg" x="267" y="1047" style="font-size:12px">DXP</text></g>
<g id="m-pyrp"><text class="S" x="230" y="1118">Pyridoxine-P</text></g>
<g id="m-plp"><text class="L bl" x="388" y="1118">PLP</text></g>
<g id="m-gln"><text class="es" x="386" y="990">Gln</text></g>
<g id="m-r5p2"><text class="rg" x="332" y="1001" style="font-size:12px">Ribose-5P</text></g>
<g id="m-gap"><text class="rg" x="413" y="1001" style="font-size:12px">GAP</text></g>
<g id="m-pyridoxine"><text x="227" y="1190" style="font-weight:bold;font-size:16px">Pyridoxine</text></g>
<g id="m-pyridoxal"><text x="385" y="1190" style="font-weight:bold;font-size:16px">Pyridoxal</text></g>

<g id="m-asp2"><text class="L" x="637" y="860">Asp</text></g>
<g id="m-bala"><text class="S" x="634" y="944">β-alanine</text></g>
<g id="m-3m2o"><text class="S st" x="728" y="818">3-Methyl-2-</text><text class="S st" x="728" y="833">oxobutanoate</text></g>
<g id="m-pantoate"><text x="778" y="944" style="font-weight:bold;font-size:14px">Pantoate</text></g>
<g id="m-panto"><text x="682" y="1022" style="font-weight:bold;font-size:17px">Pantothenate (B5)</text></g>
<g id="m-pant4p"><text class="es" x="688" y="1179">Pantetheine-4P</text></g>
<g id="m-coa"><text class="L bl" x="690" y="1280">CoA</text></g>
<g id="m-pant"><text x="788" y="1113" style="font-weight:bold;font-size:14px">Pantetheine</text></g>

<g id="m-malacp"><text class="S" x="965" y="859">Malonyl-ACP</text></g>
<g id="m-pimme"><text class="rg" x="1065" y="856">Pimeloyl-ACP</text><text class="rg" x="1065" y="870">methyl ester</text></g>
<g id="m-malme"><text class="rg" x="963" y="947">Malonyl-ACP</text><text class="rg" x="963" y="963">methyl ester</text></g>
<g id="m-pimacp"><text class="rg" x="1065" y="953">Pimeloyl-ACP</text></g>
<g id="m-pimelate"><text class="S" x="1172" y="868">Pimelate</text></g>
<g id="m-pimcoa"><text class="rg" x="1183" y="953">Pimeloyl-CoA</text></g>
<g id="m-kapa"><text class="S" x="1135" y="1032">KAPA</text></g>
<g id="m-dapa"><text class="S" x="1135" y="1113">DAPA</text></g>
<g id="m-dtb"><text class="S" x="1130" y="1185">Dethiobiotin</text></g>
<g id="m-biotin"><text class="L" x="1140" y="1263">Biotin</text></g>
<g id="m-biotprot"><text class="bl en" x="1045" y="1255" style="font-weight:bold;font-size:14px">Biotinylated</text><text class="bl en" x="1045" y="1273" style="font-weight:bold;font-size:14px">proteins</text></g>

<g id="m-gtp3"><text class="L" x="130" y="1292">GTP</text></g>
<g id="m-cdg"><text class="L" x="392" y="1292">CDG</text></g>
<g id="m-preq0"><text class="L" x="513" y="1292">preQ0</text></g>
<g id="m-preq1"><text x="515" y="1357" style="font-weight:bold;font-size:16px">preQ1</text></g>
<g id="m-preq1t"><text x="684" y="1357" style="font-weight:bold;font-size:16px">preQ1-tRNA</text></g>
<g id="m-qtrna"><text class="bl" x="979" y="1357" style="font-weight:bold;font-size:16px">queuosine-tRNA</text></g>
<g id="m-queuine"><text x="830" y="1395" style="font-weight:bold;font-size:16px">Queuine</text></g>
</g>

<g id="caption">
<text class="cap" x="25" y="1457" textLength="1302" lengthAdjust="spacingAndGlyphs"><tspan font-weight="bold">FIGURE 1 |</tspan> Reconstructed vitamin/cofactor biosynthesis and salvage pathways in HGM genomes. Eight B-vitamins, and queuine (Q) are shown in red boxes.</text>
<text class="cap" x="25" y="1482" textLength="1272" lengthAdjust="spacingAndGlyphs">Alternative and universal biosynthetic pathways are marked in blue text and highlighted in colored blocks. Biosynthetic reactions and vitamin/vitamer uptake are</text>
<text class="cap" x="25" y="1507" textLength="1268" lengthAdjust="spacingAndGlyphs">depicted by solid black and red dashed lines, respectively. Enzymes are shown by white boxes. The detailed information of enzyme commission (EC) numbers,</text>
<text class="cap" x="25" y="1532" textLength="930" lengthAdjust="spacingAndGlyphs">functional annotations, metabolite abbreviations, and transporter names are provided in <tspan font-weight="bold">Supplementary Figure S1</tspan>.</text>
</g>
</svg>
